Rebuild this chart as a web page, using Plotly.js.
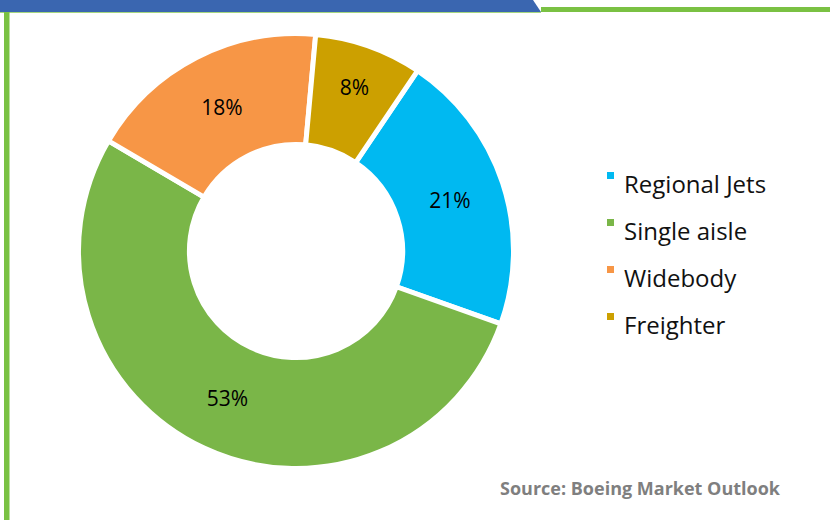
<!DOCTYPE html>
<html>
<head>
<meta charset="utf-8">
<script src="https://cdn.plot.ly/plotly-3.0.1.min.js"></script>
<style>html,body{margin:0;padding:0;background:#fff;}#chart{width:830px;height:520px;}</style>
</head>
<body>
<div id="chart"></div>
<script>
// Data
const categories = ["Regional Jets", "Single aisle", "Widebody", "Freighter"];
const shares = [21, 53, 18, 8];
const sliceColors = ["#00B9F1", "#7AB648", "#F79646", "#CCA000"];
const sourceText = "Source: Boeing Market Outlook";

const W = 830, H = 520;
const px = x => x / W;
const py = y => 1 - y / H;

const trace = {
  type: "pie",
  labels: categories,
  values: shares,
  sort: false,
  direction: "clockwise",
  rotation: 34,
  hole: 0.49,
  marker: { colors: sliceColors, line: { color: "#ffffff", width: 5 } },
  textinfo: "percent",
  textposition: "inside",
  insidetextorientation: "horizontal",
  textfont: { family: "Open Sans", size: 21, color: "#000000" },
  domain: { x: [px(78.5), px(513.5)], y: [py(468.5), py(33.5)] },
  hoverinfo: "label+percent",
  showlegend: false
};

const shapes = [
  // top banner
  { type: "path", xref: "paper", yref: "paper",
    path: `M 0,1 L ${px(533)},1 L ${px(541)},${py(12)} L 0,${py(12)} Z`,
    fillcolor: "#3A66B0", line: { width: 0 } },
  { type: "rect", xref: "paper", yref: "paper", x0: px(541), x1: 1, y0: py(12), y1: py(7),
    fillcolor: "#7AC143", line: { width: 0 } },
  { type: "rect", xref: "paper", yref: "paper", x0: 0, x1: px(541), y0: py(13), y1: py(12),
    fillcolor: "#A5D67F", line: { width: 0 } },
  // left border
  { type: "rect", xref: "paper", yref: "paper", x0: px(4), x1: px(9.5), y0: 0, y1: py(12),
    fillcolor: "#7AC143", line: { width: 0 } }
];

const annotations = [];
categories.forEach((c, i) => {
  const yc = 183 + 47 * i;
  shapes.push({ type: "rect", xref: "paper", yref: "paper",
    x0: px(607), x1: px(614), y0: py(yc - 4), y1: py(yc - 11),
    fillcolor: sliceColors[i], line: { width: 0 } });
  annotations.push({ xref: "paper", yref: "paper", x: px(622), y: py(yc),
    xanchor: "left", yanchor: "middle", showarrow: false, text: c,
    font: { family: "Open Sans", size: 24, color: "#111111" } });
});

annotations.push({ xref: "paper", yref: "paper", x: px(783), y: py(488),
  xanchor: "right", yanchor: "middle", showarrow: false, text: "<b>" + sourceText + "</b>",
  font: { family: "Open Sans", size: 18, color: "#7F7F7F" } });

const layout = {
  width: W, height: H,
  margin: { l: 0, r: 0, t: 0, b: 0 },
  paper_bgcolor: "#ffffff",
  showlegend: false,
  shapes: shapes,
  annotations: annotations
};

Plotly.newPlot("chart", [trace], layout, { displayModeBar: false, staticPlot: true });
</script>
</body>
</html>
